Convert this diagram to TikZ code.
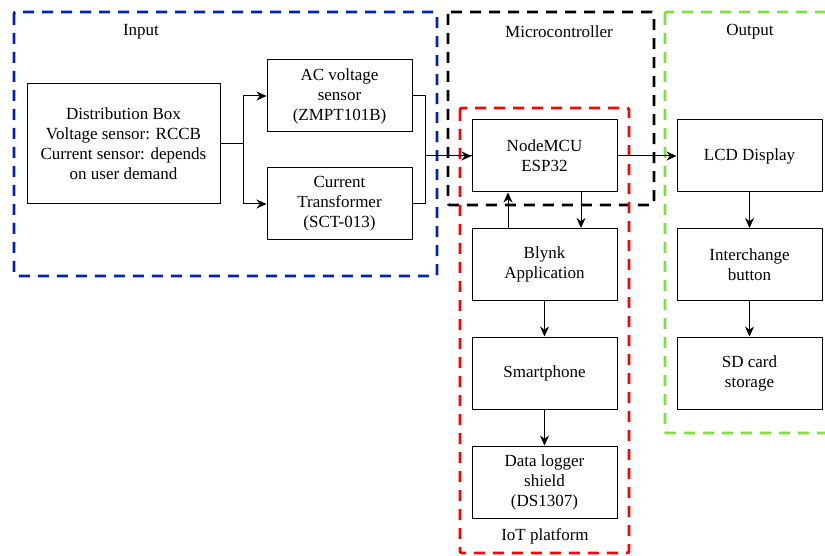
\documentclass[tikz,border=0pt]{standalone}
\usepackage{fontspec}
\setmainfont{Liberation Serif}
\newfontfamily\diagfont{Liberation Serif}
\usetikzlibrary{arrows.meta}
\usetikzlibrary{positioning}
\definecolor{frameblue}{RGB}{0,32,192}
\definecolor{framegreen}{RGB}{128,224,64}
\definecolor{framered}{RGB}{255,0,0}

\begin{document}
\begin{tikzpicture}[x=1pt,y=-1pt]
	\tikzset{
		block/.style={draw,line width=1pt,minimum width=145pt,minimum height=72pt,inner sep=2pt,align=center,
			font=\diagfont\fontsize{17}{20}\selectfont},
		arr/.style={line width=1pt,-{Stealth[length=10pt,width=9pt]}},
		line/.style={line width=1pt},
		%
		group/.style={line width=2.8pt,dash pattern=on 11pt off 8pt,rounded corners=2pt},
		grouplabel/.style={font=\diagfont\fontsize{17}{20}\selectfont}
	}
	
	\useasboundingbox (0,0) rectangle (825,556);
	\clip (0,0) rectangle (825,556);
	
	% group frames
	\draw[group,frameblue] (14,12) rectangle (437,276);
	\draw[group,black] (448,12) rectangle (654,205);
	\draw[group,framegreen] (665,12) rectangle (840,433);
	\draw[group,framered] (460,108) rectangle (629,553);
	
	\node[grouplabel] (lblinput) at (141,32) {Input};
	\node[grouplabel] (lblmcu) at (559,32) {Microcontroller};
	\node[grouplabel] (lblout) at (750,32) {Output};
	\node[grouplabel] (lbliot) at (545,536) {IoT platform};
	
	% input side
	\node[block,minimum width=193pt,minimum height=120pt] (dist) at (123.5,144)
		{Distribution Box\\Voltage sensor: RCCB\\Current sensor: depends\\on user demand};
	\node[block] (acv) at (339.5,96) {AC voltage\\sensor\\(ZMPT101B)};
	\node[block] (ct) at (339.5,204) {Current\\Transformer\\(SCT-013)};
	
	% controller and IoT
	\node[block] (mcu) at (544.5,156) {NodeMCU\\ESP32};
	\node[block] (blynk) at (544.5,264.5) {Blynk\\Application};
	\node[block] (phone) at (544.5,373) {Smartphone};
	\node[block] (logger) at (544.5,482) {Data logger\\shield\\(DS1307)};
	
	% output side
	\node[block] (lcd) at (749.5,156) {LCD Display};
	\node[block] (btn) at (749.5,264.5) {Interchange\\button};
	\node[block] (sd) at (749.5,373) {SD card\\storage};
	
	\draw[arr] (dist.east) -- ++(23,0) |- (acv.west);
	\draw[arr] (dist.east) -- ++(23,0) |- (ct.west);
	\draw[line] (acv.east) -- ++(13,0) |- (mcu.west);
	\draw[arr] (ct.east) -- ++(13,0) |- (mcu.west);
	
	\draw[arr] (mcu.east) -- (lcd.west);
	\draw[arr] ([xshift=36.5pt]mcu.south) -- ([xshift=36.5pt]blynk.north);
	\draw[arr] ([xshift=-36.5pt]blynk.north) -- ([xshift=-36.5pt]mcu.south);
	\draw[arr] (blynk) -- (phone);
	\draw[arr] (phone) -- (logger);
	
	\draw[arr] (lcd) -- (btn);
	\draw[arr] (btn) -- (sd);
\end{tikzpicture}
\end{document}
